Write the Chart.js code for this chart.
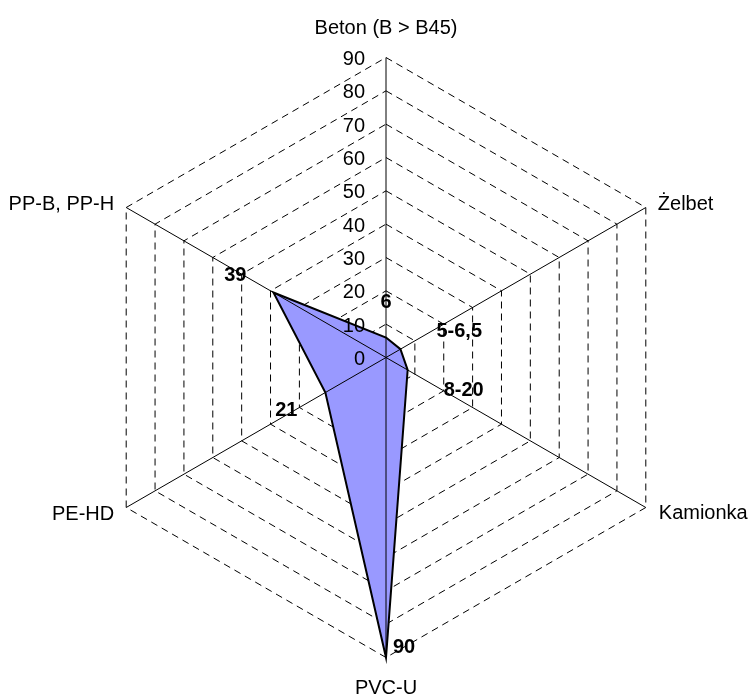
<!DOCTYPE html>
<html lang="pl">
<head>
<meta charset="utf-8">
<title>Wykres radarowy materiałów rur</title>
<script src="https://cdn.jsdelivr.net/npm/chart.js@4/dist/chart.umd.min.js"></script>
<style>
  html, body { margin: 0; padding: 0; background: #ffffff; }
  #wrap { width: 752px; height: 697px; position: relative; }
  canvas { display: block; }
</style>
</head>
<body>
<div id="wrap"><canvas id="chart" width="752" height="697"></canvas></div>
<script>
// Materials on the radar axes (clockwise from the top)
const categories = ['Beton (B > B45)', 'Żelbet', 'Kamionka', 'PVC-U', 'PE-HD', 'PP-B, PP-H'];
// Plotted values per material
const values = [6, 5, 7.5, 90, 21, 39];
// Value labels written next to each vertex
const valueLabels = ['6', '5-6,5', '8-20', '90', '21', '39'];
// Radial scale range
const scaleMin = 0;
const scaleMax = 90;
const scaleStep = 10;

const FONT = '"Liberation Sans", Arial, sans-serif';
const FONT_SIZE = 20;

// Scale geometry: centre and outer radius of the polygon grid
const CENTER_X = 386;
const CENTER_Y = 357.5;
const RADIUS = 300;

// Offsets of the axis titles from the outer axis ends
const axisTitleStyle = [
  { align: 'center', dx: 0,   dy: -24 },
  { align: 'left',   dx: 12,  dy: 2 },
  { align: 'left',   dx: 13,  dy: 11 },
  { align: 'center', dx: 0,   dy: 36 },
  { align: 'right',  dx: -12, dy: 12 },
  { align: 'right',  dx: -12, dy: 2 }
];
// Offsets of the value labels from the data vertices
const valueLabelStyle = [
  { align: 'center', dx: 0,   dy: -30 },
  { align: 'left',   dx: 36,  dy: -12 },
  { align: 'left',   dx: 36,  dy: 26 },
  { align: 'left',   dx: 7,   dy: -5 },
  { align: 'right',  dx: -28, dy: 23 },
  { align: 'right',  dx: -27, dy: -12 }
];

const radialGeometry = {
  id: 'radialGeometry',
  afterLayout(chart) {
    const s = chart.scales.r;
    s.xCenter = CENTER_X;
    s.yCenter = CENTER_Y;
    s.drawingArea = RADIUS;
  }
};

const radarDecorations = {
  id: 'radarDecorations',
  afterDatasetsDraw(chart) {
    const ctx = chart.ctx;
    const s = chart.scales.r;
    const outer = s.getDistanceFromCenterForValue(scaleMax);
    const n = categories.length;

    // solid axis spokes drawn over the filled area
    ctx.save();
    ctx.strokeStyle = '#000000';
    ctx.lineWidth = 1;
    ctx.setLineDash([]);
    for (let i = 0; i < n; i++) {
      const p = s.getPointPosition(i, outer);
      ctx.beginPath();
      ctx.moveTo(s.xCenter, s.yCenter);
      ctx.lineTo(p.x, p.y);
      ctx.stroke();
    }
    ctx.restore();

    // tick values, right-aligned to the left of the top axis
    ctx.save();
    ctx.fillStyle = '#000000';
    ctx.font = FONT_SIZE + 'px ' + FONT;
    ctx.textAlign = 'right';
    ctx.textBaseline = 'alphabetic';
    s.ticks.forEach(t => {
      const d = s.getDistanceFromCenterForValue(t.value);
      ctx.fillText(String(t.value), s.xCenter - 21, s.yCenter - d + 7.5);
    });
    ctx.restore();

    // axis titles
    ctx.save();
    ctx.fillStyle = '#000000';
    ctx.font = FONT_SIZE + 'px ' + FONT;
    ctx.textBaseline = 'alphabetic';
    for (let i = 0; i < n; i++) {
      const p = s.getPointPosition(i, outer);
      const st = axisTitleStyle[i];
      ctx.textAlign = st.align;
      ctx.fillText(categories[i], p.x + st.dx, p.y + st.dy);
    }
    ctx.restore();

    // bold value labels at the data vertices
    const meta = chart.getDatasetMeta(0);
    ctx.save();
    ctx.fillStyle = '#000000';
    ctx.font = 'bold ' + FONT_SIZE + 'px ' + FONT;
    ctx.textBaseline = 'alphabetic';
    meta.data.forEach((pt, i) => {
      const st = valueLabelStyle[i];
      ctx.textAlign = st.align;
      ctx.fillText(valueLabels[i], pt.x + st.dx, pt.y + st.dy);
    });
    ctx.restore();
  }
};

new Chart(document.getElementById('chart'), {
  type: 'radar',
  data: {
    labels: categories,
    datasets: [{
      data: values,
      backgroundColor: '#9999FF',
      borderColor: '#000000',
      borderWidth: 2,
      pointRadius: 0,
      pointHoverRadius: 0,
      fill: true,
      tension: 0
    }]
  },
  options: {
    responsive: false,
    animation: false,
    layout: { padding: 0 },
    plugins: {
      legend: { display: false },
      tooltip: { enabled: false }
    },
    scales: {
      r: {
        min: scaleMin,
        max: scaleMax,
        beginAtZero: true,
        ticks: { display: false, stepSize: scaleStep },
        pointLabels: { display: false },
        angleLines: { display: false },
        grid: { color: '#000000', lineWidth: 1, circular: false, borderDash: [7, 5] },
        border: { dash: [7, 5] }
      }
    }
  },
  plugins: [radialGeometry, radarDecorations]
});
</script>
</body>
</html>
